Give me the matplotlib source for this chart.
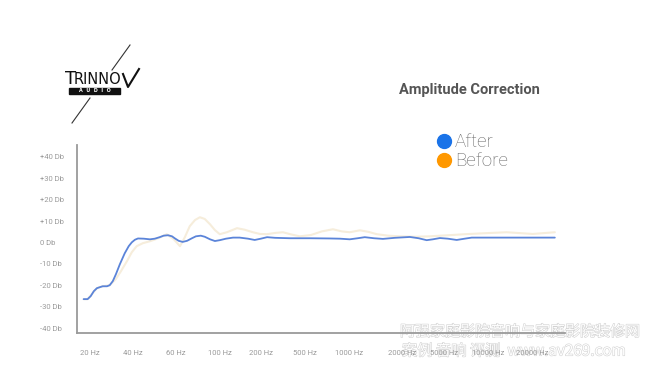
import matplotlib
matplotlib.use("Agg")
import matplotlib.pyplot as plt
from matplotlib.lines import Line2D
from matplotlib.patches import Rectangle
import matplotlib.patheffects as pe

W, H = 650, 378

# ---------------- data ----------------
y_ticks = [40, 30, 20, 10, 0, -10, -20, -30, -40]
y_tick_labels = ["+40 Db", "+30 Db", "+20 Db", "+10 Db", "0 Db",
                 "-10 Db", "-20 Db", "-30 Db", "-40 Db"]
x_tick_labels = ["20 Hz", "40 Hz", "60 Hz", "100 Hz", "200 Hz", "500 Hz",
                 "1000 Hz", "2000 Hz", "5000 Hz", "10000 Hz", "20000 Hz"]
x_tick_slots = [0.0, 0.97, 1.95, 2.94, 3.87, 4.86, 5.86, 7.06, 8.01, 9.01, 10.0]

after_x = [-0.14, -0.05, 0.02, 0.09, 0.16, 0.23, 0.29, 0.39, 0.45, 0.52,
           0.59, 0.68, 0.79, 0.88, 0.95, 1.02, 1.09, 1.22, 1.36, 1.47,
           1.58, 1.67, 1.77, 1.86, 1.92, 2.01, 2.10, 2.20, 2.31, 2.40,
           2.51, 2.60, 2.72, 2.83, 2.94, 3.08, 3.24, 3.39, 3.58, 3.73,
           3.87, 4.01, 4.19, 4.53, 4.98, 5.43, 5.66, 5.88, 6.06, 6.22,
           6.43, 6.63, 6.90, 7.24, 7.44, 7.62, 7.76, 7.92, 8.10, 8.30,
           8.48, 8.64, 10.52]
after_db = [-26.4, -26.4, -25.0, -22.7, -21.3, -20.8, -20.4, -20.4, -19.9, -18.0,
            -14.8, -10.1, -5.0, -1.7, 0.1, 1.3, 1.9, 1.8, 1.5, 1.8,
            2.5, 3.2, 3.4, 2.9, 2.0, 0.8, 0.3, 0.8, 2.0, 2.9,
            3.2, 2.7, 1.5, 0.7, 1.1, 1.8, 2.3, 2.3, 1.8, 1.2,
            1.8, 2.5, 2.2, 2.0, 2.0, 1.9, 1.8, 1.5, 2.0, 2.5,
            2.0, 1.7, 2.2, 2.6, 2.0, 1.1, 1.5, 2.1, 1.8, 1.2,
            1.8, 2.3, 2.3]

before_x = [-0.14, -0.05, 0.16, 0.29, 0.45, 0.59, 0.70, 0.84, 0.95, 1.06,
            1.20, 1.36, 1.55, 1.74, 1.90, 2.04, 2.15, 2.26, 2.38, 2.49,
            2.60, 2.72, 2.83, 2.94, 3.10, 3.33, 3.50, 3.69, 3.85, 4.01,
            4.20, 4.37, 4.55, 4.75, 5.00, 5.25, 5.50, 5.70, 5.88, 6.11,
            6.30, 6.49, 6.75, 7.01, 7.35, 7.69, 8.10, 8.50, 8.89, 9.43,
            10.02, 10.52]
before_db = [-26.4, -26.4, -21.3, -20.4, -19.9, -17.0, -13.5, -8.7, -4.5, -1.7,
             -0.3, 0.6, 2.0, 3.9, 1.5, -1.7, 2.5, 7.6, 10.5, 11.8,
             11.0, 8.5, 5.8, 3.9, 4.8, 6.7, 6.0, 4.8, 4.0, 3.9,
             4.5, 4.8, 3.8, 2.9, 3.5, 5.2, 6.2, 5.2, 4.8, 5.7,
             5.0, 3.9, 3.2, 2.9, 2.7, 2.9, 3.4, 3.9, 4.3, 4.8,
             4.0, 4.8]

series_names = ["After", "Before"]
series_colors = ["#1a73e8", "#ff9800"]
line_colors = ["#5b84d9", "#f6eddb"]

title = "Amplitude Correction"
watermark_lines = ["阿强家庭影院音响与家庭影院装修网", "案例 音响 评测  www.av269.com"]


def fx(px):
    return px / W


def fy(py):
    return 1 - py / H


fig = plt.figure(figsize=(6.5, 3.78), dpi=100)
fig.patch.set_facecolor("white")

ax = fig.add_axes([fx(77), fy(333), (565 - 77) / W, (333 - 145) / H])
ax.patch.set_alpha(0)
ax.plot(before_x, before_db, color=line_colors[1], lw=1.5, solid_joinstyle="round",
        solid_capstyle="round", zorder=2)
ax.plot(after_x, after_db, color=line_colors[0], lw=1.3, solid_joinstyle="round",
        solid_capstyle="round", zorder=3)

ax.set_xlim(-0.29, 10.75)
ax.set_ylim(-42.2, 45.5)
for s in ["top", "right"]:
    ax.spines[s].set_visible(False)
for s in ["left", "bottom"]:
    ax.spines[s].set_color("#9a9a9a")
    ax.spines[s].set_linewidth(1.3)

ax.set_yticks(y_ticks)
ax.set_yticklabels(y_tick_labels, fontsize=5.5, color="#9a9a9a", family="Roboto", ha="left")
ax.tick_params(axis="y", length=0, pad=27)
ax.set_xticks(x_tick_slots)
ax.set_xticklabels(x_tick_labels, fontsize=5.5, color="#9a9a9a", family="Roboto")
ax.tick_params(axis="x", length=0, pad=12)

fig.text(fx(469), fy(90), title, ha="center", va="center", fontsize=10.5,
         fontweight="bold", color="#555555", family="Roboto")

handles = [Line2D([], [], marker="o", linestyle="none", markersize=10,
                  markerfacecolor=c, markeredgecolor=c) for c in series_colors]
fig.legend(handles, series_names, loc="upper left", bbox_to_anchor=(fx(426), fy(124)),
           frameon=False, labelcolor="#666666", handletextpad=0.15,
           labelspacing=0.05, borderpad=0, handlelength=0.9,
           prop={"family": "Roboto", "weight": "light", "size": 13.5})

# ---- logo ----
fig.add_artist(Line2D([fx(130), fx(112)], [fy(45), fy(70)], color="#333333", lw=0.8,
                      transform=fig.transFigure))
fig.add_artist(Line2D([fx(90), fx(72)], [fy(98), fy(123)], color="#333333", lw=0.8,
                      transform=fig.transFigure))
fig.text(fx(65), fy(79), "T", ha="left", va="center", fontsize=13,
         color="#111111", family="DejaVu Sans")
fig.text(fx(74), fy(80), "RINNO", ha="left", va="center", fontsize=10.5,
         color="#111111", family="DejaVu Sans")
fig.add_artist(Line2D([fx(123), fx(128), fx(139)], [fy(74), fy(87), fy(69)],
                      color="#111111", lw=1.5, transform=fig.transFigure))
fig.add_artist(Rectangle((fx(69), fy(94)), (120 - 69) / W, 6 / H, color="#111111",
                         transform=fig.transFigure))
fig.text(fx(94.5), fy(91), "A  U  D  I  O", ha="center", va="center", fontsize=3.5,
         color="white", family="DejaVu Sans", fontweight="bold")

# ---- watermark ----
wm_fx = [pe.Stroke(linewidth=0.8, foreground="#d2d2d2"), pe.Normal()]
fig.text(fx(400), fy(332), watermark_lines[0], ha="left", va="center", fontsize=10.8,
         color="white", family=["Noto Sans CJK SC", "DejaVu Sans"], path_effects=wm_fx,
         zorder=-1)
fig.text(fx(402), fy(351), watermark_lines[1], ha="left", va="center", fontsize=11,
         color="white", family=["Noto Sans CJK SC", "DejaVu Sans"], path_effects=wm_fx,
         zorder=-1)

fig.savefig("out.png", dpi=100, facecolor="white")
